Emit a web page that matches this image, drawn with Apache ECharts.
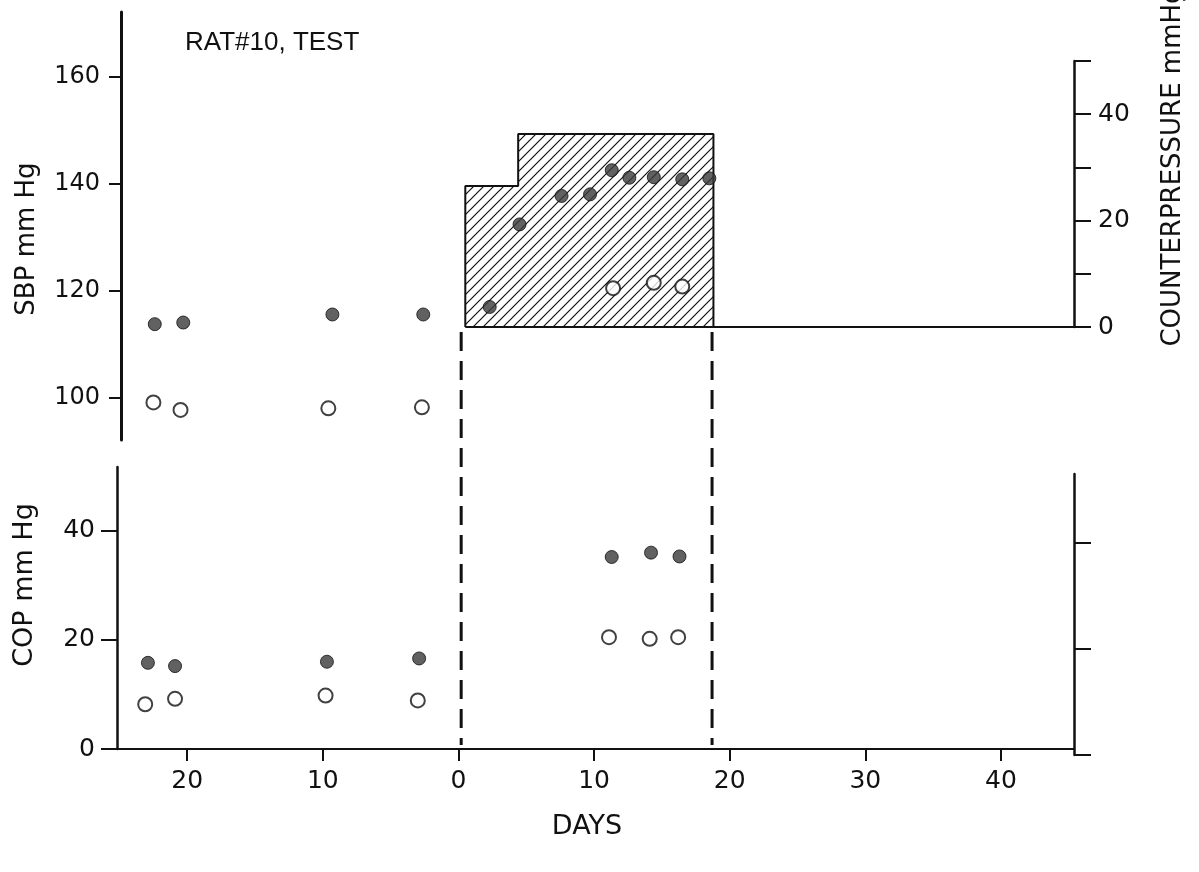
<!DOCTYPE html>
<html><head><meta charset="utf-8">
<script src="https://cdn.jsdelivr.net/npm/echarts@6/dist/echarts.min.js"></script>
<style>html,body{margin:0;padding:0;background:#fff}#c{width:1199px;height:872px}</style>
</head><body><div id="c"></div>
<script>
// ---- data (days relative to start of counterpressure; negative = before) ----
const sbpFilledDays = [-22.4, -20.3, -9.3, -2.6, 2.3, 4.5, 7.6, 9.7, 11.3, 12.6, 14.4, 16.5, 18.5];
const sbpFilled     = [113.8, 114.1, 115.6, 115.6, 117.0, 132.4, 137.7, 138.0, 142.5, 141.1, 141.2, 140.8, 141.0];
const sbpOpenDays   = [-22.5, -20.5, -9.6, -2.7, 11.4, 14.4, 16.5];
const sbpOpen       = [99.2, 97.8, 98.1, 98.3, 120.5, 121.5, 120.8];

const copFilledDays = [-22.9, -20.9, -9.7, -2.9, 11.3, 14.2, 16.3];
const copFilled     = [15.8, 15.2, 16.0, 16.6, 35.2, 36.0, 35.3];
const copOpenDays   = [-23.1, -20.9, -9.8, -3.0, 11.1, 14.1, 16.2];
const copOpen       = [8.2, 9.2, 9.8, 8.9, 20.5, 20.2, 20.5];

const cpChangeDays  = [0.5, 4.4, 18.8];     // counterpressure level changes
const cpLevels      = [26.5, 36.3, 0];      // mmHg from each change day
const phaseDays     = [0.2, 18.7];          // dashed phase boundaries

const sbpTicks   = [100, 120, 140, 160];
const cpTicks    = [0, 10, 20, 30, 40, 50];
const cpLabels   = [0, 20, 40];
const copTicks   = [0, 20, 40];
const copRTicks  = [0, 20, 40];
const dayTicks   = [-20, -10, 0, 10, 20, 30, 40];

// ---- build ----
const zip = (xs, ys) => xs.map((x, i) => [x, ys[i]]);
const X_MAX = 45.39;
const FONT = '"DejaVu Sans", sans-serif';
const INK = '#111';

const pc = document.createElement('canvas');
pc.width = 10; pc.height = 10;
const g = pc.getContext('2d');
g.strokeStyle = INK; g.lineWidth = 1.2;
g.beginPath();
g.moveTo(0, 10); g.lineTo(10, 0);
g.moveTo(-3, 3); g.lineTo(3, -3);
g.moveTo(7, 13); g.lineTo(13, 7);
g.stroke();

const cpData = [[cpChangeDays[0], 0]].concat(zip(cpChangeDays, cpLevels)).concat([[X_MAX, 0]]);

function hiddenX(gi, min) {
  return {type: 'value', gridIndex: gi, min: min, max: X_MAX, show: false, splitLine: {show: false}};
}
const lbl = (m, fs) => ({color: INK, fontFamily: FONT, fontSize: fs, margin: m});

const option = {
  animation: false,
  backgroundColor: '#fff',
  grid: [
    {left: 121, right: 125, top: 12, bottom: 432},
    {left: 121, right: 125, top: 61, bottom: 545},
    {left: 117, right: 125, top: 467, bottom: 123},
    {left: 117, right: 125, top: 474, bottom: 117},
    {left: 117, right: 125, top: 332, bottom: 127}
  ],
  xAxis: [
    hiddenX(0, -24.89),
    hiddenX(1, -24.89),
    {
      type: 'value', gridIndex: 2, min: -25.18, max: X_MAX,
      splitLine: {show: false},
      axisLine: {show: true, onZero: false, lineStyle: {color: INK, width: 2}},
      axisTick: {show: true, customValues: dayTicks, length: 12, lineStyle: {color: INK, width: 2}},
      axisLabel: Object.assign(lbl(20, 25), {customValues: dayTicks, formatter: v => String(Math.abs(v))})
    },
    hiddenX(3, -25.18),
    hiddenX(4, -25.18)
  ],
  yAxis: [
    {
      type: 'value', gridIndex: 0, position: 'left', min: 92.2, max: 172,
      splitLine: {show: false},
      axisLine: {show: true, onZero: false, lineStyle: {color: INK, width: 3}},
      axisTick: {show: true, customValues: sbpTicks, length: 12, lineStyle: {color: INK, width: 2}},
      axisLabel: Object.assign(lbl(21, 24), {customValues: sbpTicks})
    },
    {
      type: 'value', gridIndex: 1, position: 'right', min: 0, max: 50,
      splitLine: {show: false},
      axisLine: {show: true, onZero: false, lineStyle: {color: INK, width: 2.5}},
      axisTick: {show: true, customValues: cpTicks, length: 17, lineStyle: {color: INK, width: 2}},
      axisLabel: Object.assign(lbl(24, 25), {customValues: cpLabels})
    },
    {
      type: 'value', gridIndex: 2, position: 'left', min: 0, max: 51.7,
      splitLine: {show: false},
      axisLine: {show: true, onZero: false, lineStyle: {color: INK, width: 2.5}},
      axisTick: {show: true, customValues: copTicks, length: 16, lineStyle: {color: INK, width: 2}},
      axisLabel: Object.assign(lbl(22, 25), {customValues: copTicks})
    },
    {
      type: 'value', gridIndex: 3, position: 'right', min: 0, max: 52.9,
      splitLine: {show: false},
      axisLine: {show: true, onZero: false, lineStyle: {color: INK, width: 2.5}},
      axisTick: {show: true, customValues: copRTicks, length: 17, lineStyle: {color: INK, width: 2}},
      axisLabel: {show: false}
    },
    {type: 'value', gridIndex: 4, min: 0, max: 1, show: false, splitLine: {show: false}}
  ],
  graphic: [
    {type: 'text', x: 185, y: 43, style: {text: 'RAT#10, TEST', font: '26px "Liberation Sans", sans-serif', fill: INK, align: 'left', textAlign: 'left', verticalAlign: 'middle', textVerticalAlign: 'middle'}},
    {type: 'text', x: 27, y: 239, rotation: Math.PI / 2, style: {text: 'SBP mm Hg', font: '26px ' + FONT, fill: INK, align: 'center', textAlign: 'center', verticalAlign: 'middle', textVerticalAlign: 'middle'}},
    {type: 'text', x: 25, y: 585, rotation: Math.PI / 2, style: {text: 'COP mm Hg', font: '27px ' + FONT, fill: INK, align: 'center', textAlign: 'center', verticalAlign: 'middle', textVerticalAlign: 'middle'}},
    {type: 'text', x: 1173, y: 167, rotation: Math.PI / 2, style: {text: 'COUNTERPRESSURE mmHg', font: '26px ' + FONT, fill: INK, align: 'center', textAlign: 'center', verticalAlign: 'middle', textVerticalAlign: 'middle'}},
    {type: 'text', x: 587, y: 827, style: {text: 'DAYS', font: '27px ' + FONT, fill: INK, align: 'center', textAlign: 'center', verticalAlign: 'middle', textVerticalAlign: 'middle'}}
  ],
  series: [
    {
      type: 'line', xAxisIndex: 1, yAxisIndex: 1, step: 'end', data: cpData, symbol: 'none', silent: true, z: 1,
      lineStyle: {color: INK, width: 2},
      areaStyle: {color: {image: pc, repeat: 'repeat'}, opacity: 1}
    },
    {
      type: 'line', xAxisIndex: 1, yAxisIndex: 1, data: [[cpChangeDays[0], 0], [cpChangeDays[cpChangeDays.length - 1], 0]],
      symbol: 'none', silent: true, z: 1, lineStyle: {color: INK, width: 2}
    },
    {
      type: 'scatter', xAxisIndex: 0, yAxisIndex: 0, data: zip(sbpFilledDays, sbpFilled), symbolSize: 13, z: 5,
      itemStyle: {color: '#3a3a3a', borderColor: INK, borderWidth: 1}
    },
    {
      type: 'scatter', xAxisIndex: 0, yAxisIndex: 0, data: zip(sbpOpenDays, sbpOpen), symbolSize: 14, z: 5,
      itemStyle: {color: '#fff', borderColor: INK, borderWidth: 2}
    },
    {
      type: 'scatter', xAxisIndex: 2, yAxisIndex: 2, data: zip(copFilledDays, copFilled), symbolSize: 13, z: 5,
      itemStyle: {color: '#3a3a3a', borderColor: INK, borderWidth: 1}
    },
    {
      type: 'scatter', xAxisIndex: 2, yAxisIndex: 2, data: zip(copOpenDays, copOpen), symbolSize: 14, z: 5,
      itemStyle: {color: '#fff', borderColor: INK, borderWidth: 2}
    }
  ].concat(phaseDays.map(d => ({
    type: 'line', xAxisIndex: 4, yAxisIndex: 4, data: [[d, 1], [d, 0]], symbol: 'none', silent: true, z: 3,
    lineStyle: {color: INK, width: 3, type: [19, 10]}
  })))
};

const chart = echarts.init(document.getElementById('c'), null, {renderer: 'canvas'});
chart.setOption(option);
</script>
</body></html>
